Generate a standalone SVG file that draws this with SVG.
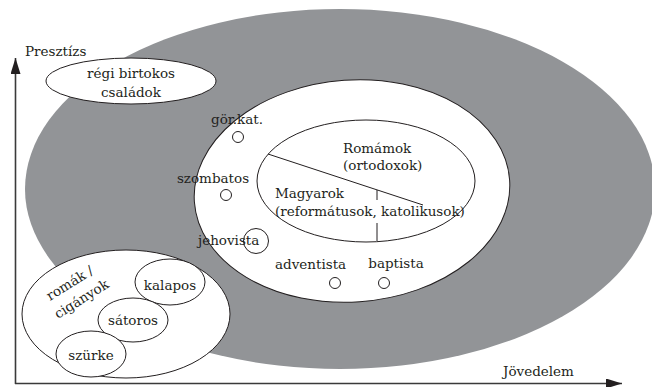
<svg xmlns="http://www.w3.org/2000/svg" width="652" height="387" viewBox="0 0 652 387">
<style>
  text { font-family: "DejaVu Serif", "Liberation Serif", serif; font-size: 13.5px; fill: #231f20; }
  .c { text-anchor: middle; }
  .node { fill: #ffffff; stroke: #231f20; stroke-width: 1; }
  .dot { fill: #ffffff; stroke: #231f20; stroke-width: 1; }
  .axis { stroke: #3a3a3a; stroke-width: 1.6; fill: none; }
  .div { stroke: #231f20; stroke-width: 1; fill: none; }
</style>
<defs>
  <marker id="arrow" viewBox="0 0 16 10" refX="16" refY="5" markerWidth="16" markerHeight="10" markerUnits="userSpaceOnUse" orient="auto">
    <path d="M0,0 L16,5 L0,10 z" fill="#231f20"/>
  </marker>
</defs>

<g id="outer-zone">
  <ellipse cx="340" cy="189" rx="315" ry="180" fill="#929497"/>
</g>

<g id="regi-birtokos">
  <ellipse class="node" cx="131" cy="81" rx="85" ry="23"/>
  <text class="c" x="131" y="78">régi birtokos</text>
  <text class="c" x="131" y="97">családok</text>
</g>

<g id="middle-zone">
  <ellipse class="node" cx="352" cy="191" rx="158" ry="111" transform="rotate(-4 352 191)"/>
</g>

<g id="core">
  <ellipse class="node" cx="366" cy="181" rx="109" ry="61"/>
  <g id="dividers">
    <line class="div" x1="268" y1="154" x2="423" y2="205"/>
    <line class="div" x1="377" y1="190" x2="377" y2="200"/>
    <line class="div" x1="377" y1="223" x2="377" y2="241"/>
  </g>
  <text x="343" y="153">Romámok</text>
  <text x="343" y="170">(ortodoxok)</text>
  <text x="275" y="198">Magyarok</text>
  <text x="275" y="216">(reformátusok, katolikusok)</text>
</g>

<g id="gor-kat">
  <text class="c" x="237" y="124">gör.kat.</text>
  <circle class="dot" cx="238" cy="137" r="5.5"/>
</g>

<g id="szombatos">
  <text class="c" x="213" y="183">szombatos</text>
  <circle class="dot" cx="226" cy="195" r="5.5"/>
</g>

<g id="jehovista">
  <circle class="dot" cx="256" cy="241" r="12.5" fill="none"/>
  <text x="198" y="245">jehovista</text>
</g>

<g id="adventista">
  <text x="275" y="269">adventista</text>
  <circle class="dot" cx="335" cy="283" r="5.5"/>
</g>

<g id="baptista">
  <text class="c" x="396" y="268">baptista</text>
  <circle class="dot" cx="384" cy="283" r="5.5"/>
</g>

<g id="romak">
  <ellipse class="node" cx="126" cy="314" rx="104" ry="64"/>
  <text transform="translate(50 301) rotate(-32)">romák /</text>
  <text transform="translate(58 319) rotate(-32)">cigányok</text>
</g>

<g id="kalapos">
  <ellipse class="node" cx="170" cy="282" rx="35" ry="23"/>
  <text class="c" x="170" y="290">kalapos</text>
</g>

<g id="satoros">
  <ellipse class="node" cx="133" cy="320" rx="35" ry="22"/>
  <text class="c" x="133" y="325">sátoros</text>
</g>

<g id="szurke">
  <ellipse class="node" cx="91" cy="354" rx="35" ry="23"/>
  <text class="c" x="91" y="360">szürke</text>
</g>

<g id="connectors">
  <line class="axis" x1="15.5" y1="384" x2="15.5" y2="58" marker-end="url(#arrow)"/>
  <line class="axis" x1="15" y1="383.5" x2="622" y2="383.5" marker-end="url(#arrow)"/>
</g>

<g id="axis-labels">
  <text x="25" y="56">Presztízs</text>
  <text x="503" y="376">Jövedelem</text>
</g>
</svg>
